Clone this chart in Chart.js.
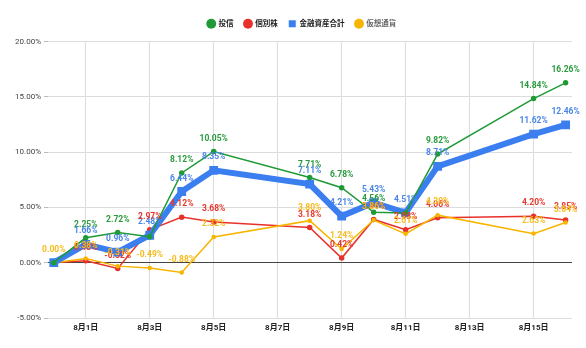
<!DOCTYPE html>
<html lang="ja">
<head>
<meta charset="utf-8">
<title>資産推移</title>
<script src="https://cdn.jsdelivr.net/npm/chart.js@4.4.1/dist/chart.umd.min.js"></script>
<style>
  html, body { margin: 0; padding: 0; background: #fff; }
  #wrap { width: 586px; height: 348px; position: relative; }
</style>
</head>
<body>
<div id="wrap"><canvas id="assetChart"></canvas></div>
<script>
// 日付（7/31 = 0, 8月は日付そのまま）
const days = [0, 1, 2, 3, 4, 5, 8, 9, 10, 11, 12, 15, 16];
const dateTicks = [1, 3, 5, 7, 9, 11, 13, 15];

// 各資産の騰落率（%）
const toushin = [0, 2.25, 2.72, 2.35, 8.12, 10.05, 7.71, 6.78, 4.56, 4.5, 9.82, 14.84, 16.26];
const kobetsu = [0, 0.18, -0.52, 2.97, 4.12, 3.68, 3.18, 0.42, 3.91, 2.98, 4.06, 4.2, 3.85];
const goukei = [0, 1.66, 0.96, 2.48, 6.44, 8.35, 7.11, 4.21, 5.43, 4.51, 8.71, 11.62, 12.46];
const kasou = [0, 0.38, -0.31, -0.49, -0.88, 2.32, 3.8, 1.24, 3.86, 2.61, 4.3, 2.63, 3.64];

const yTicks = [-5, 0, 5, 10, 15, 20];

const FONT = "Roboto, 'Noto Sans CJK JP', sans-serif";

const toPoints = (vals) => vals.map((v, i) => ({ x: days[i], y: v }));

// ラベルを出さない点（重なり回避）
const hideLabels = { 0: [0, 3, 9], 1: [0], 2: [0] };

const pointLabels = {
  id: "pointLabels",
  afterDatasetsDraw(chart) {
    const { ctx } = chart;
    ctx.save();
    ctx.font = "bold 8.5px " + FONT;
    ctx.textAlign = "center";
    ctx.textBaseline = "middle";
    [0, 2, 1, 3].forEach((di) => {
      const ds = chart.data.datasets[di];
      const meta = chart.getDatasetMeta(di);
      ctx.fillStyle = ds.labelColor;
      meta.data.forEach((pt, i) => {
        if ((hideLabels[di] || []).includes(i)) return;
        const v = ds.data[i].y;
        ctx.fillText(v.toFixed(2) + "%", pt.x, pt.y - 13);
      });
    });
    ctx.restore();
  },
};

// 凡例の下に少し余白を足し、少し右へ寄せる
const legendGap = {
  id: "legendGap",
  beforeLayout(chart) {
    const lg = chart.legend;
    if (!lg || lg._gapAdded) return;
    const fit = lg.fit.bind(lg);
    lg.fit = function () {
      fit();
      this.height += 4;
    };
    lg._gapAdded = true;
  },
  afterLayout(chart) {
    const lg = chart.legend;
    if (!lg) return;
    lg.left += 16;
    lg.right += 16;
  },
};

new Chart(document.getElementById("assetChart"), {
  type: "line",
  data: {
    datasets: [
      {
        label: "投信",
        data: toPoints(toushin),
        borderColor: "#1f9a37",
        backgroundColor: "#1f9a37",
        labelColor: "#2a9a3e",
        borderWidth: 1.5,
        pointRadius: 2,
        order: 0,
      },
      {
        label: "個別株",
        data: toPoints(kobetsu),
        borderColor: "#e8312a",
        backgroundColor: "#e8312a",
        labelColor: "#e8382e",
        borderWidth: 1.5,
        pointRadius: 2,
        order: 3,
      },
      {
        label: "金融資産合計",
        data: toPoints(goukei),
        borderColor: "#3b7ef0",
        backgroundColor: "#3b7ef0",
        labelColor: "#4a86e8",
        borderWidth: 6,
        pointStyle: "rect",
        pointRadius: 2,
        order: 1,
      },
      {
        label: "仮想通貨",
        data: toPoints(kasou),
        borderColor: "#f7b500",
        backgroundColor: "#f7b500",
        labelColor: "#f6bb1c",
        borderWidth: 1.5,
        pointRadius: 1.5,
        order: 2,
      },
    ],
  },
  options: {
    responsive: true,
    maintainAspectRatio: false,
    animation: false,
    layout: { padding: { top: 9, right: 14, left: 0, bottom: 4 } },
    elements: { line: { tension: 0 } },
    plugins: {
      legend: {
        position: "top",
        labels: {
          font: { family: FONT, size: 7.5, weight: "bold" },
          color: "#222",
          usePointStyle: true,
          boxWidth: 7,
          boxHeight: 7,
          padding: 11,
          generateLabels(chart) {
            return chart.data.datasets.map((ds, i) => ({
              text: ds.label,
              fillStyle: ds.borderColor,
              strokeStyle: ds.borderColor,
              lineWidth: 0,
              pointStyle: ds.pointStyle === "rect" ? "rect" : "circle",
              fontColor: i === 3 ? "#666" : "#222",
              datasetIndex: i,
              hidden: false,
            }));
          },
        },
      },
      tooltip: { enabled: false },
    },
    scales: {
      x: {
        type: "linear",
        min: -0.18,
        max: 16.2,
        afterBuildTicks(scale) {
          scale.ticks = dateTicks.map((v) => ({ value: v }));
        },
        afterFit(scale) {
          scale.height = 26;
        },
        ticks: {
          autoSkip: false,
          maxRotation: 0,
          padding: 5,
          color: "#222",
          font: { family: FONT, size: 8, weight: "bold" },
          callback: (v) => "8月" + v + "日",
        },
        grid: { color: "#dcdcdc", drawTicks: false },
        border: { display: false },
      },
      y: {
        min: -5,
        max: 20,
        afterBuildTicks(scale) {
          scale.ticks = yTicks.map((v) => ({ value: v }));
        },
        afterFit(scale) {
          scale.width = 48;
        },
        ticks: {
          padding: 3,
          color: "#444",
          font: { family: FONT, size: 8 },
          callback: (v) => v.toFixed(2) + "%",
        },
        grid: {
          color: (c) => (c.tick && c.tick.value === 0 ? "#444" : "#dcdcdc"),
          tickLength: 4,
          tickColor: "#bbb",
        },
        border: { display: false },
      },
    },
  },
  plugins: [pointLabels, legendGap],
});
</script>
</body>
</html>
